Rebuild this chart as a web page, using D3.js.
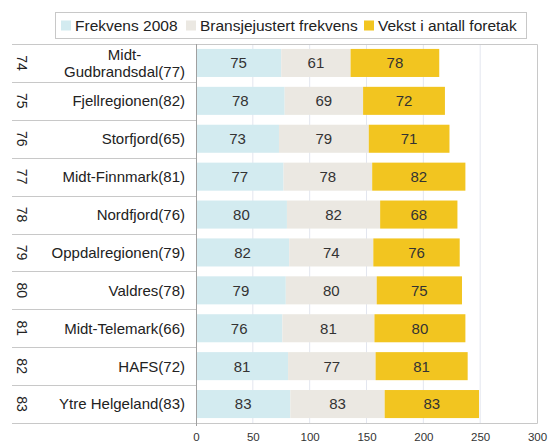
<!DOCTYPE html>
<html>
<head>
  <script src="https://d3js.org/d3.v7.min.js"></script>
  <style>
    body { margin: 0; background: #fff; }
    svg { font-family: "Liberation Sans", Arial, sans-serif; }
    .rowlabel { fill: #222; font-size: 15px; }
    .rank { fill: #222; font-size: 14px; }
    .val { fill: #333; font-size: 15px; }
    .axis--x text { fill: #333; font-size: 11.5px; font-family: "Liberation Sans", Arial, sans-serif; }
    .legend text { fill: #222; font-size: 15.5px; }
  </style>
</head>
<body>
  <svg id="chart"></svg>
  <script>
    // data
    var regions = ["Midt-\nGudbrandsdal(77)", "Fjellregionen(82)", "Storfjord(65)", "Midt-Finnmark(81)",
      "Nordfjord(76)", "Oppdalregionen(79)", "Valdres(78)", "Midt-Telemark(66)", "HAFS(72)", "Ytre Helgeland(83)"];
    var ranks = ["74", "75", "76", "77", "78", "79", "80", "81", "82", "83"];
    var frekvens = [75, 78, 73, 77, 80, 82, 79, 76, 81, 83];
    var bransje = [61, 69, 79, 78, 82, 74, 80, 81, 77, 83];
    var vekst = [78, 72, 71, 82, 68, 76, 75, 80, 81, 83];
    var seriesNames = ["Frekvens 2008", "Bransjejustert frekvens", "Vekst i antall foretak"];
    var colors = ["#d3ebf0", "#ebe8e2", "#f2c520"];
    var xTicks = [0, 50, 100, 150, 200, 250, 300];

    var W = 548, H = 444;
    var svg = d3.select("#chart").attr("width", W).attr("height", H);

    var plot = { left: 196, right: 537, top: 44, bottom: 423 };

    var x = d3.scaleLinear().domain([0, 300]).range([plot.left, plot.right]);
    var y = d3.scaleBand().domain(regions).range([plot.top, plot.bottom]).paddingInner(0.26).paddingOuter(0.13);

    // rows as objects for stacking
    var rows = regions.map(function(r, i) {
      return { region: r, rank: ranks[i], s0: frekvens[i], s1: bransje[i], s2: vekst[i] };
    });
    var stack = d3.stack().keys(["s0", "s1", "s2"])(rows);

    // gridlines
    svg.append("g").selectAll("line")
      .data(xTicks.slice(1, -1))
      .join("line")
      .attr("x1", function(d) { return x(d); })
      .attr("x2", function(d) { return x(d); })
      .attr("y1", plot.top)
      .attr("y2", plot.bottom)
      .attr("stroke", "#e3e6ef")
      .attr("stroke-width", 1);

    // frame
    svg.append("path")
      .attr("d", "M" + plot.left + "," + (plot.top + 0.5) + "H" + (plot.right + 0.5) + "V" + (plot.bottom + 0.5) + "H" + plot.left)
      .attr("fill", "none")
      .attr("stroke", "#c8c8c8");

    // bars
    var layers = svg.append("g").selectAll("g")
      .data(stack)
      .join("g")
      .attr("fill", function(d, i) { return colors[i]; });

    layers.selectAll("rect")
      .data(function(d) { return d; })
      .join("rect")
      .attr("x", function(d) { return x(d[0]); })
      .attr("y", function(d) { return y(d.data.region); })
      .attr("width", function(d) { return x(d[1]) - x(d[0]); })
      .attr("height", y.bandwidth());

    layers.selectAll("text")
      .data(function(d) { return d; })
      .join("text")
      .attr("class", "val")
      .attr("x", function(d) { return (x(d[0]) + x(d[1])) / 2; })
      .attr("y", function(d) { return y(d.data.region) + y.bandwidth() / 2; })
      .attr("dy", "0.36em")
      .attr("text-anchor", "middle")
      .text(function(d) { return d[1] - d[0]; });

    // left category table
    var step = y.step();
    var sepY = d3.range(regions.length + 1).map(function(i) { return plot.top + i * step; });
    svg.append("g").selectAll("line")
      .data(sepY)
      .join("line")
      .attr("x1", 12)
      .attr("x2", plot.left)
      .attr("y1", function(d) { return Math.round(d) + 0.5; })
      .attr("y2", function(d) { return Math.round(d) + 0.5; })
      .attr("stroke", "#c8c8c8");

    // left axis line
    svg.append("line")
      .attr("x1", plot.left + 0.5).attr("x2", plot.left + 0.5)
      .attr("y1", plot.top).attr("y2", plot.bottom + 3)
      .attr("stroke", "#a0a0a0");

    var labels = svg.append("g").selectAll("text")
      .data(rows)
      .join("text")
      .attr("class", "rowlabel")
      .attr("text-anchor", "middle");

    labels.each(function(d) {
      var t = d3.select(this);
      var lines = d.region.split("\n");
      var cy = y(d.region) + y.bandwidth() / 2;
      lines.forEach(function(l, j) {
        t.append("tspan")
          .attr("y", cy + (j - (lines.length - 1) / 2) * 17)
          .attr("dy", "0.36em")
          .text(l);
      });
      var w = d3.max(t.selectAll("tspan").nodes(), function(n) { return n.getComputedTextLength(); });
      t.selectAll("tspan").attr("x", 185 - w / 2);
    });

    svg.append("g").selectAll("text")
      .data(rows)
      .join("text")
      .attr("class", "rank")
      .attr("text-anchor", "middle")
      .attr("transform", function(d) {
        return "translate(22," + (y(d.region) + y.bandwidth() / 2) + ") rotate(90)";
      })
      .attr("dy", "0.36em")
      .text(function(d) { return d.rank; });

    // x axis
    var xAxis = svg.append("g")
      .attr("class", "axis axis--x")
      .attr("transform", "translate(0," + (plot.bottom + 0.5) + ")")
      .call(d3.axisBottom(x).tickValues(xTicks).tickSize(0).tickPadding(9));
    xAxis.select(".domain").remove();

    // legend
    var legend = svg.append("g").attr("class", "legend");
    legend.append("rect")
      .attr("x", 55.5).attr("y", 12.5)
      .attr("width", 471).attr("height", 26)
      .attr("fill", "#fff")
      .attr("stroke", "#c8c8c8");
    var legendX = [61, 186, 364];
    var items = legend.selectAll("g.item")
      .data(seriesNames)
      .join("g")
      .attr("class", "item")
      .attr("transform", function(d, i) { return "translate(" + legendX[i] + ",25.5)"; });
    items.append("rect")
      .attr("x", 0).attr("y", -5)
      .attr("width", 10).attr("height", 10)
      .attr("fill", function(d, i) { return colors[i]; });
    items.append("text")
      .attr("x", 14)
      .attr("dy", "0.36em")
      .text(function(d) { return d; });
  </script>
</body>
</html>
